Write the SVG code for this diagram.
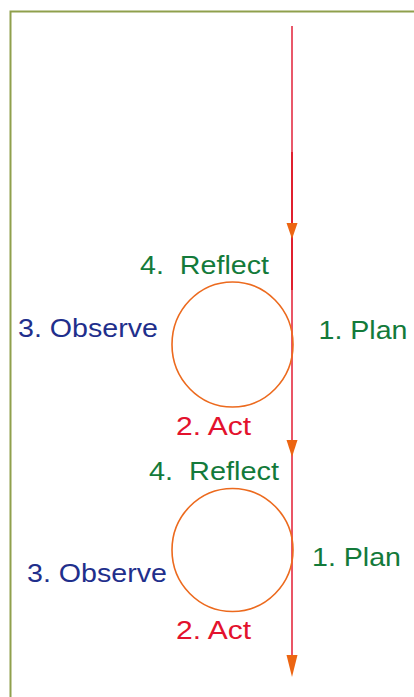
<svg xmlns="http://www.w3.org/2000/svg" width="414" height="697" viewBox="0 0 414 697">
<style>
  .lbl { font-family: "Liberation Sans", Arial, sans-serif; font-size: 26px; }
  .green { fill: #137a3a; }
  .navy { fill: #1f2f8c; }
  .red { fill: #e3122d; }
  .loop { fill: none; stroke: #ec6a1e; stroke-width: 1.6; }
  .arrow { fill: #ec6512; }
</style>
<rect width="414" height="697" fill="#ffffff"/>
<path d="M10.5 697 V11.5 H414" fill="none" stroke="#8fa04c" stroke-width="2"/>
<g id="connectors">
  <line x1="292" y1="26" x2="292" y2="152" stroke="#e9586a" stroke-width="2"/>
  <line x1="292" y1="152" x2="292" y2="290" stroke="#e0202f" stroke-width="2"/>
  <line x1="292" y1="290" x2="292" y2="670" stroke="#ea5566" stroke-width="2"/>
  <polygon class="arrow" points="286.5,223 297.5,223 292,239"/>
  <polygon class="arrow" points="286.5,440 297.5,440 292,457"/>
  <polygon class="arrow" points="286.5,655 297.5,655 292,677"/>
</g>
<g id="cycle1">
  <ellipse class="loop" cx="232.5" cy="344.5" rx="60.5" ry="62.5"/>
  <text class="lbl green" x="140" y="273.5" textLength="129" lengthAdjust="spacingAndGlyphs" xml:space="preserve">4.  Reflect</text>
  <text class="lbl navy" x="18" y="337" textLength="140" lengthAdjust="spacingAndGlyphs">3. Observe</text>
  <text class="lbl green" x="318.5" y="338.5" textLength="89" lengthAdjust="spacingAndGlyphs">1. Plan</text>
  <text class="lbl red" x="176" y="434.5" textLength="75" lengthAdjust="spacingAndGlyphs">2. Act</text>
</g>
<g id="cycle2">
  <ellipse class="loop" cx="232.5" cy="550" rx="60.5" ry="61.5"/>
  <text class="lbl green" x="149" y="480" textLength="130" lengthAdjust="spacingAndGlyphs" xml:space="preserve">4.  Reflect</text>
  <text class="lbl navy" x="27" y="582" textLength="140" lengthAdjust="spacingAndGlyphs">3. Observe</text>
  <text class="lbl green" x="312" y="566" textLength="89" lengthAdjust="spacingAndGlyphs">1. Plan</text>
  <text class="lbl red" x="176" y="639" textLength="75" lengthAdjust="spacingAndGlyphs">2. Act</text>
</g>
</svg>
